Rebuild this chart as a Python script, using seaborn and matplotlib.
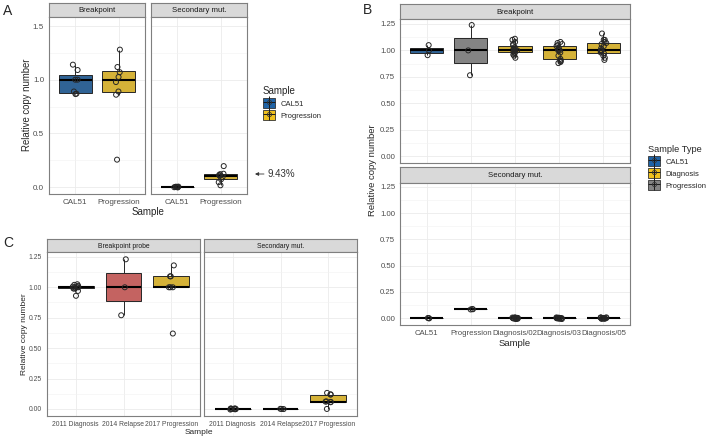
import numpy as np
import pandas as pd
import matplotlib
matplotlib.use("Agg")
import matplotlib.pyplot as plt
import seaborn as sns
from matplotlib.patches import Patch, FancyArrowPatch
from matplotlib.lines import Line2D
from matplotlib.ticker import MultipleLocator, FormatStrFormatter
from matplotlib.legend_handler import HandlerTuple

sns.set_style("white")
plt.rcParams['font.family'] = ['Liberation Sans', 'DejaVu Sans']
np.random.seed(3)

# colours
BLUE = "#1F63A6"
YELLOW = "#EFC11E"
GREY = "#848484"
RED = "#D45351"
DARK = "#1A1A1A"

# ---- panel A data ----
a_samples = ["CAL51", "Progression"]
a_colors = [BLUE, YELLOW]
a_bp_cal51 = [0.866, 0.87, 0.89, 1.0, 1.0, 1.09, 1.14]
a_bp_prog = [0.255, 0.86, 0.89, 0.978, 1.025, 1.07, 1.118, 1.28]
a_sm_cal51 = [-0.004, -0.002, 0.0, 0.0, 0.001, 0.003, 0.004]
a_sm_prog = [0.016, 0.045, 0.072, 0.093, 0.105, 0.112, 0.12, 0.124, 0.195]

# ---- panel B data ----
b_samples = ["CAL51", "Progression", "Diagnosis/02", "Diagnosis/03", "Diagnosis/05"]
b_colors = [BLUE, GREY, YELLOW, YELLOW, YELLOW]
b_bp_cal51 = [0.955, 1.0, 1.05]
b_bp_prog = [0.765, 1.0, 1.24]
b_bp_d02 = [0.93, 0.95, 0.96, 0.97, 0.98, 0.99, 0.99, 1.0, 1.0, 1.0, 1.01, 1.02,
            1.03, 1.05, 1.06, 1.08, 1.10, 1.11]
b_bp_d03 = [0.88, 0.89, 0.90, 0.905, 0.92, 0.95, 0.98, 1.0, 1.0, 1.01, 1.02, 1.04,
            1.05, 1.06, 1.07, 1.08]
b_bp_d05 = [0.91, 0.93, 0.95, 0.97, 0.98, 0.99, 1.0, 1.0, 1.0, 1.02, 1.04, 1.06,
            1.07, 1.08, 1.10, 1.10, 1.16]
b_sm_cal51 = [-0.002, 0.0, 0.002]
b_sm_prog = [0.083, 0.085, 0.087]
b_sm_d02 = [-0.008, -0.006, -0.004, -0.003, -0.002, -0.001, 0.0, 0.0, 0.001, 0.002,
            0.003, 0.004, 0.006, 0.008]
b_sm_d03 = [-0.008, -0.005, -0.004, -0.002, -0.001, 0.0, 0.0, 0.001, 0.002, 0.003,
            0.005, 0.007]
b_sm_d05 = [-0.007, -0.005, -0.003, -0.002, 0.0, 0.0, 0.001, 0.002, 0.004, 0.005,
            0.007, 0.008]
b_legend = ["CAL51", "Diagnosis", "Progression"]
b_legend_colors = [BLUE, YELLOW, GREY]

# ---- panel C data ----
c_samples = ["2011 Diagnosis", "2014 Relapse", "2017 Progression"]
c_colors = [DARK, RED, YELLOW]
c_bp_2011 = [0.93, 0.97, 0.99, 0.99, 1.0, 1.0, 1.0, 1.005, 1.012, 1.02, 1.025]
c_bp_2014 = [0.77, 1.0, 1.23]
c_bp_2017 = [0.62, 1.0, 1.0, 1.0, 1.09, 1.09, 1.18]
c_sm_2011 = [-0.005, -0.003, -0.001, 0.0, 0.0, 0.002, 0.004, 0.005]
c_sm_2014 = [-0.001, 0.0, 0.001]
c_sm_2017 = [0.0, 0.055, 0.058, 0.06, 0.062, 0.118, 0.12, 0.132]

W, H = 709, 437
fig = plt.figure(figsize=(W / 100, H / 100), dpi=100)


def box_at(l, t, r, b):
    return fig.add_axes([l / W, 1 - b / H, (r - l) / W, (b - t) / H])


def strip(l, t, r, b, label, fs):
    ax = box_at(l, t, r, b)
    ax.set_facecolor('#D9D9D9')
    ax.set_xticks([])
    ax.set_yticks([])
    for s in ax.spines.values():
        s.set_color('#7F7F7F')
        s.set_linewidth(0.8)
    ax.text(0.5, 0.45, label, ha='center', va='center', fontsize=fs,
            color='#1A1A1A', transform=ax.transAxes)


def panel(l, t, r, b, groups, values, colors, ylim, major, fmt, fs,
          show_y=True, show_x=True):
    ax = box_at(l, t, r, b)
    names = [g for g, v in zip(groups, values) for _ in v]
    df = pd.DataFrame({"Sample": names, "value": np.concatenate(values)})
    sns.boxplot(data=df, x='Sample', y='value', hue='Sample', order=groups,
                hue_order=groups, palette=dict(zip(groups, colors)), legend=False,
                width=0.75, linewidth=0.7, linecolor='#262626', showfliers=False,
                showcaps=False, medianprops=dict(color='black', linewidth=1.5), ax=ax)
    n0 = len(ax.collections)
    sns.stripplot(data=df, x='Sample', y='value', order=groups, jitter=0.07,
                  size=3.6, color='#262626', edgecolor='#262626', linewidth=0.7, ax=ax)
    for coll in ax.collections[n0:]:
        coll.set_facecolor('none')
        coll.set_zorder(4)
    ax.set_xlim(-0.6, len(groups) - 0.4)
    ax.set_ylim(*ylim)
    ax.yaxis.set_major_locator(MultipleLocator(major))
    ax.yaxis.set_minor_locator(MultipleLocator(major / 2))
    ax.yaxis.set_major_formatter(FormatStrFormatter(fmt))
    ax.grid(True, which='major', color='#EBEBEB', lw=0.6)
    ax.grid(True, which='minor', axis='y', color='#F2F2F2', lw=0.4)
    ax.set_axisbelow(True)
    ax.set_xlabel('')
    ax.set_ylabel('')
    ax.tick_params(axis='both', which='major', length=2, width=0.5, color='#333333',
                   labelsize=fs, labelcolor='#4D4D4D', pad=1.5)
    ax.tick_params(which='minor', length=0)
    for s in ax.spines.values():
        s.set_color('#7F7F7F')
        s.set_linewidth(0.8)
    if not show_y:
        ax.tick_params(axis='y', left=False, labelleft=False)
    if not show_x:
        ax.tick_params(axis='x', bottom=False, labelbottom=False)
    return ax


def key_handle(color):
    return (Patch(facecolor=color, edgecolor='#333333', linewidth=0.6),
            Line2D([], [], marker='+', ms=8.5, mew=0.7, color='#1A1A1A', ls='none'),
            Line2D([], [], marker='o', ms=3, mfc='none', mec='#333333', mew=0.6, ls='none'))


# ---------------- A ----------------
fig.text(8 / W, 1 - 11 / H, "A", fontsize=10, ha='center', va='center')
strip(49, 3, 145, 17, "Breakpoint", 5.6)
strip(151, 3, 247, 17, "Secondary mut.", 5.6)
panel(49, 17, 145, 194, a_samples, [a_bp_cal51, a_bp_prog], a_colors,
      (-0.065, 1.584), 0.5, '%.1f', 5.8)
panel(151, 17, 247, 194, a_samples, [a_sm_cal51, a_sm_prog], a_colors,
      (-0.065, 1.584), 0.5, '%.1f', 5.8, show_y=False)
fig.text(27 / W, 1 - 105 / H, "Relative copy number", rotation=90, fontsize=6.9,
         ha='center', va='center')
fig.text(148 / W, 1 - 212 / H, "Sample", fontsize=7, ha='center', va='center')
fig.legend([key_handle(c) for c in a_colors], a_samples,
           handler_map={tuple: HandlerTuple(ndivide=1)}, title="Sample",
           loc='upper left', bbox_to_anchor=(259 / W, 1 - 82 / H), frameon=False,
           fontsize=5.5, title_fontsize=7, handlelength=1.6, handleheight=1.6,
           alignment='left', borderpad=0, labelspacing=0.3, handletextpad=0.7)
fig.text(267 / W, 1 - 174 / H, "9.43%", fontsize=7, ha='left', va='center',
         color='#333333')
fig.add_artist(FancyArrowPatch((264 / W, 1 - 174 / H), (255 / W, 1 - 174 / H),
                               transform=fig.transFigure, arrowstyle='-|>',
                               mutation_scale=5, color='#333333', lw=0.6,
                               shrinkA=0, shrinkB=0))

# ---------------- B ----------------
fig.text(368 / W, 1 - 10 / H, "B", fontsize=10, ha='center', va='center')
strip(400, 4, 630, 19, "Breakpoint", 5.6)
panel(400, 19, 630, 163, b_samples, [b_bp_cal51, b_bp_prog, b_bp_d02, b_bp_d03, b_bp_d05],
      b_colors, (-0.065, 1.297), 0.25, '%.2f', 5.6, show_x=False)
strip(400, 167, 630, 183, "Secondary mut.", 5.6)
panel(400, 183, 630, 325, b_samples, [b_sm_cal51, b_sm_prog, b_sm_d02, b_sm_d03, b_sm_d05],
      b_colors, (-0.065, 1.288), 0.25, '%.2f', 5.6)
fig.text(373 / W, 1 - 170 / H, "Relative copy number", rotation=90, fontsize=6.8,
         ha='center', va='center')
fig.text(515 / W, 1 - 343 / H, "Sample", fontsize=6.8, ha='center', va='center')
fig.legend([key_handle(c) for c in b_legend_colors], b_legend,
           handler_map={tuple: HandlerTuple(ndivide=1)}, title="Sample Type",
           loc='upper left', bbox_to_anchor=(644 / W, 1 - 141 / H), frameon=False,
           fontsize=5.5, title_fontsize=6.7, handlelength=1.6, handleheight=1.6,
           alignment='left', borderpad=0, labelspacing=0.3, handletextpad=0.7)

# ---------------- C ----------------
fig.text(8 / W, 1 - 243 / H, "C", fontsize=10, ha='center', va='center')
strip(47, 239, 200, 252, "Breakpoint probe", 4.9)
strip(204, 239, 357, 252, "Secondary mut.", 4.9)
panel(47, 252, 200, 416, c_samples, [c_bp_2011, c_bp_2014, c_bp_2017], c_colors,
      (-0.058, 1.29), 0.25, '%.2f', 4.9)
panel(204, 252, 357, 416, c_samples, [c_sm_2011, c_sm_2014, c_sm_2017], c_colors,
      (-0.058, 1.29), 0.25, '%.2f', 4.9, show_y=False)
fig.text(24 / W, 1 - 334 / H, "Relative copy number", rotation=90, fontsize=6,
         ha='center', va='center')
fig.text(199 / W, 1 - 432 / H, "Sample", fontsize=6, ha='center', va='center')

fig.savefig("out.png", dpi=100, facecolor='white')
